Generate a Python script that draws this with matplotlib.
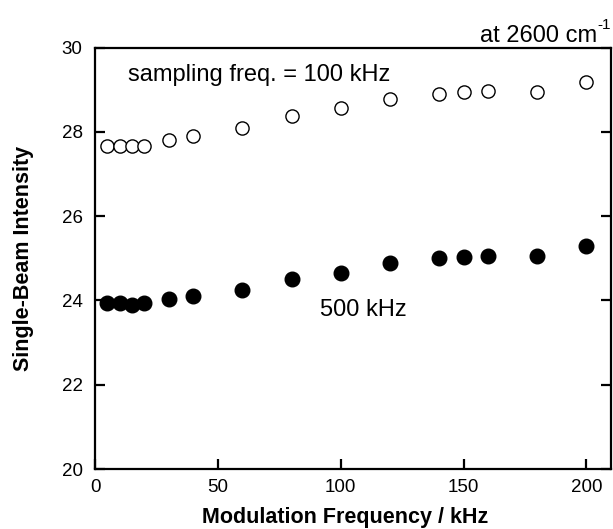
import matplotlib
matplotlib.use("Agg")
import matplotlib.pyplot as plt

plt.rcParams['font.family'] = ['Liberation Sans', 'DejaVu Sans']

# modulation frequency (kHz)
freq = [5, 10, 15, 20, 30, 40, 60, 80, 100, 120, 140, 150, 160, 180, 200]

# single-beam intensity, sampling freq. = 100 kHz (open) and 500 kHz (filled)
intensity_100k = [27.66, 27.66, 27.66, 27.66, 27.81, 27.90, 28.10, 28.37,
                  28.56, 28.77, 28.89, 28.94, 28.96, 28.94, 29.17]
intensity_500k = [23.93, 23.95, 23.89, 23.93, 24.03, 24.10, 24.25, 24.51,
                  24.64, 24.89, 25.01, 25.04, 25.06, 25.06, 25.29]

x_ticks = [0, 50, 100, 150, 200]
y_ticks = [20, 22, 24, 26, 28, 30]

fig = plt.figure(figsize=(6.13, 5.29), dpi=100)
ax = fig.add_axes([0.155, 0.1134, 0.8417, 0.7968])

ax.plot(freq, intensity_100k, 'o', ms=9.5, mfc='white', mec='black', mew=1.0,
        linestyle='none')
ax.plot(freq, intensity_500k, 'o', ms=10.5, mfc='black', mec='black',
        linestyle='none')

ax.set_xlim(0, 210)
ax.set_ylim(20, 30)
ax.set_xticks(x_ticks)
ax.set_yticks(y_ticks)

for s in ax.spines.values():
    s.set_linewidth(1.6)

ax.tick_params(axis='both', direction='in', length=7, width=1.6,
               labelsize=13.5, pad=9)
ax.tick_params(axis='y', right=True)
ax.tick_params(axis='x', pad=7)

ax.set_xlabel('Modulation Frequency / kHz', fontsize=15.5, fontweight='bold',
              va='center')
ax.xaxis.set_label_coords(0.485, -0.116)
ax.set_ylabel('Single-Beam Intensity', fontsize=15.5, fontweight='bold',
              va='center')
ax.yaxis.set_label_coords(-0.138, 0.5)

ax.text(13.4, 29.35, 'sampling freq. = 100 kHz', fontsize=17, va='center')
ax.text(91.5, 23.77, '500 kHz', fontsize=17, va='center')
fig.text(0.974, 0.932, 'at 2600 cm', fontsize=17, ha='right', va='center')
fig.text(0.975, 0.952, '-1', fontsize=11, ha='left', va='center')

fig.savefig('out.png', dpi=100)
